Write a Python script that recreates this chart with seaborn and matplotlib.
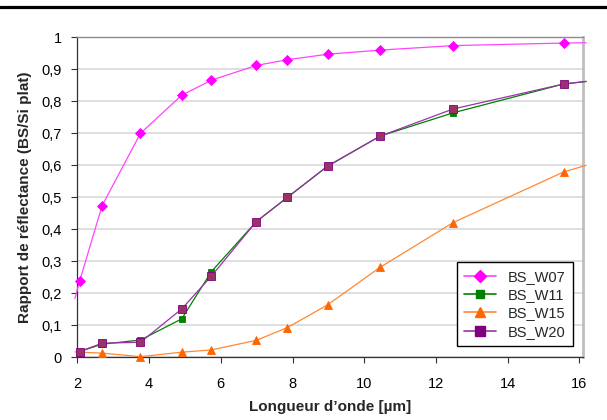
import numpy as np
import pandas as pd
import seaborn as sns
import matplotlib.pyplot as plt
from matplotlib.lines import Line2D

# --- data ---
wavelength = [2.06, 2.69, 3.76, 4.91, 5.74, 6.99, 7.86, 8.98, 10.44, 12.48, 15.56]
bs_w07 = [0.237, 0.474, 0.700, 0.819, 0.866, 0.912, 0.930, 0.947, 0.960, 0.974, 0.982]
bs_w11 = [0.018, 0.041, 0.054, 0.120, 0.268, 0.424, 0.500, 0.597, 0.691, 0.764, 0.854]
bs_w15 = [0.016, 0.013, 0.002, 0.016, 0.023, 0.053, 0.093, 0.164, 0.281, 0.421, 0.579]
bs_w20 = [0.018, 0.044, 0.047, 0.151, 0.254, 0.424, 0.500, 0.598, 0.691, 0.776, 0.854]

# line ends that run past the plot frame (no marker there)
left_x = 1.93
right_x = 16.19
left_end = {'BS_W07': 0.184, 'BS_W15': 0.017}
right_end = {'BS_W07': 0.983, 'BS_W11': 0.862, 'BS_W15': 0.600, 'BS_W20': 0.862}

series = {'BS_W07': bs_w07, 'BS_W11': bs_w11, 'BS_W15': bs_w15, 'BS_W20': bs_w20}

STYLE = {
    'BS_W07': dict(color='#FF44FF', marker='D', ms=5, mfc='#FF00FF', mec='#FF00FF'),
    'BS_W11': dict(color='#008000', marker='s', ms=3.8, mfc='#008000', mec='#008000'),
    'BS_W15': dict(color='#FF8833', marker='^', ms=6, mfc='#FF6600', mec='#FF6600'),
    'BS_W20': dict(color='#9933AA', marker='s', ms=6, mfc='#993366', mec='#800080'),
}
LEGEND_FACE = {'BS_W07': '#FF00FF', 'BS_W11': '#008000', 'BS_W15': '#FF6600', 'BS_W20': '#800080'}

sns.set_style('white')
plt.rcParams['font.family'] = ['Liberation Sans', 'DejaVu Sans']

fig = plt.figure(figsize=(6.07, 4.2), dpi=100)
ax = fig.add_axes([0.1275, 0.1493, 0.8325, 0.7619])

for name, ys in series.items():
    xs = list(wavelength)
    yv = list(ys)
    start = 0
    if name in left_end:
        xs = [left_x] + xs
        yv = [left_end[name]] + yv
        start = 1
    xs = xs + [right_x]
    yv = yv + [right_end[name]]
    st = STYLE[name]
    sns.lineplot(x=xs, y=yv, ax=ax, sort=False, estimator=None,
                 color=st['color'], lw=0.9, marker=st['marker'],
                 markersize=st['ms'], markerfacecolor=st['mfc'],
                 markeredgecolor=st['mec'], markeredgewidth=0.6,
                 markevery=list(range(start, start + len(wavelength))),
                 clip_on=False, legend=False, zorder=3)

ax.set_xlim(2, 16.095)
ax.set_ylim(0, 1)
ax.set_xticks(range(2, 17, 2))
yt = np.round(np.arange(0, 1.01, 0.1), 1)
ax.set_yticks(yt)
ax.set_yticklabels(['0' if v == 0 else '1' if v == 1 else f'{v:.1f}'.replace('.', ',') for v in yt])

ax.grid(axis='y', color='#D9D9D9', lw=1.2)
ax.grid(axis='x', visible=False)
ax.set_axisbelow(True)

for side in ['left', 'bottom']:
    ax.spines[side].set_color('#333333')
    ax.spines[side].set_linewidth(0.9)
ax.spines['top'].set_color('#8C8C8C')
ax.spines['top'].set_linewidth(1.0)
ax.spines['right'].set_color('#BFBFBF')
ax.spines['right'].set_linewidth(2.0)

ax.tick_params(axis='both', direction='out', length=4, width=0.8, color='#333333',
               labelsize=10.5, labelcolor='black', left=True, bottom=True)
ax.tick_params(axis='y', pad=7)
ax.tick_params(axis='x', pad=10)

ax.set_xlabel('Longueur d\u2019onde [\u00b5m]', fontsize=11, fontweight='bold', labelpad=7)
ax.set_ylabel('Rapport de r\u00e9flectance (BS/Si plat)', fontsize=11, fontweight='bold', labelpad=7)

handles = []
for name in series:
    st = STYLE[name]
    handles.append(Line2D([], [], color=st['color'], lw=1.2, marker=st['marker'],
                          markersize=st['ms'] + 1.5, markerfacecolor=LEGEND_FACE[name],
                          markeredgecolor=LEGEND_FACE[name], label=name))
leg = ax.legend(handles=handles, loc='lower right', bbox_to_anchor=(0.981, 0.035),
                fontsize=10.5, frameon=True, fancybox=False, handlelength=2.2,
                labelspacing=0.3, borderpad=0.5, handletextpad=0.8, borderaxespad=0)
leg.get_frame().set_edgecolor('black')
leg.get_frame().set_linewidth(1.0)
leg.get_frame().set_facecolor('white')
leg.get_frame().set_alpha(1)

# heavy rule across the top of the page
fig.add_artist(Line2D([0, 1], [1 - 7 / 420, 1 - 7 / 420], transform=fig.transFigure,
                      color='black', lw=2.3))

fig.savefig('out.png', dpi=100)
